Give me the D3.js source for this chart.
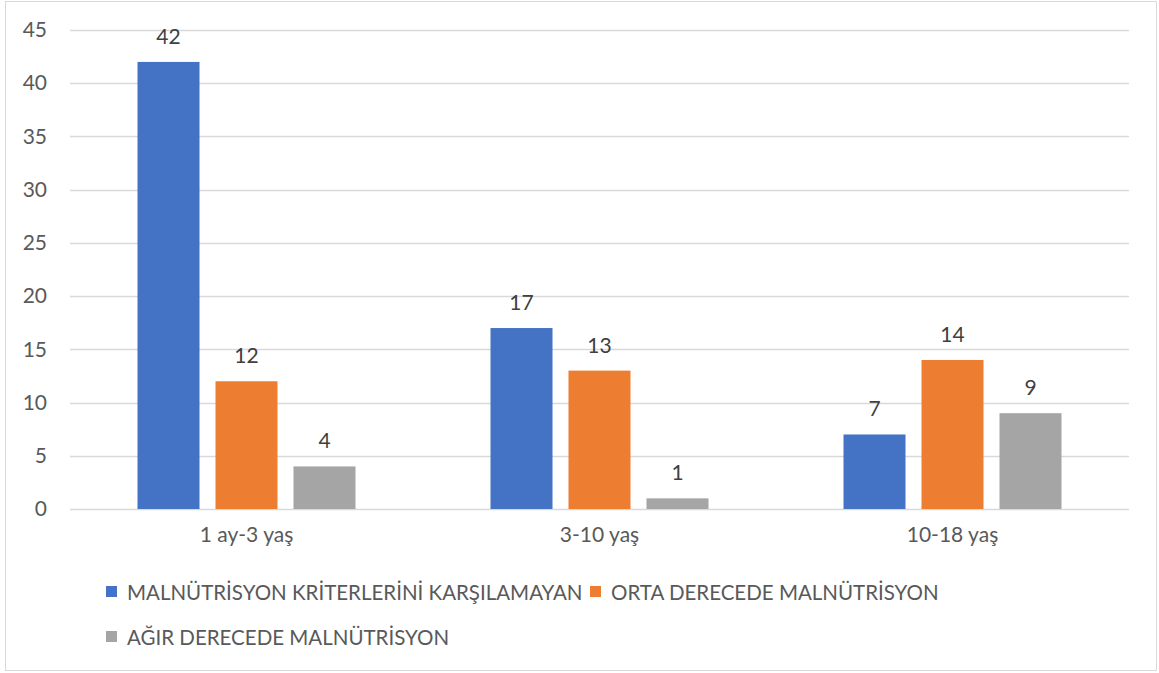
<!DOCTYPE html>
<html>
<head>
<meta charset="utf-8">
<script src="https://cdn.jsdelivr.net/npm/d3@7"></script>
<style>
  body { margin: 0; background: #fff; }
  svg { font-family: Lato, "Open Sans", sans-serif; }
</style>
</head>
<body>
<div id="chart-area"></div>
<script>
// Chart data
const categories = ["1 ay-3 yaş", "3-10 yaş", "10-18 yaş"];
const seriesNames = [
    "MALNÜTRİSYON KRİTERLERİNİ KARŞILAMAYAN",
    "ORTA DERECEDE MALNÜTRİSYON",
    "AĞIR DERECEDE MALNÜTRİSYON"
];
const kriterDisi = [42, 17, 7];
const ortaDerece = [12, 13, 14];
const agirDerece = [4, 1, 9];
const yTicks = [0, 5, 10, 15, 20, 25, 30, 35, 40, 45];
const colors = ["#4472c4", "#ed7d31", "#a5a5a5"];

const seriesValues = [kriterDisi, ortaDerece, agirDerece];

const W = 1159, H = 673;
const margin = { left: 70, right: 30, top: 30, bottom: 164 };
const width = W - margin.left - margin.right,
    height = H - margin.top - margin.bottom;

const svg = d3.select("#chart-area").append("svg")
    .attr("width", W)
    .attr("height", H);

// outer chart border
svg.append("rect")
    .attr("x", 5.5).attr("y", 1.5)
    .attr("width", 1151).attr("height", 669)
    .attr("fill", "#fff")
    .attr("stroke", "#d9d9d9")
    .attr("stroke-width", 1);

const g = svg.append("g")
    .attr("transform", "translate(" + margin.left + "," + margin.top + ")");

// Scales
const x0 = d3.scaleBand().domain(categories).range([0, width]).paddingInner(0).paddingOuter(0);
const x1 = d3.scaleBand().domain(d3.range(seriesNames.length))
    .range([67.5, x0.bandwidth() - 67.5]).paddingInner(0.205).paddingOuter(0);
const y = d3.scaleLinear().domain([0, 45]).range([height, 0]);

// Gridlines
g.selectAll(".grid").data(yTicks).enter().append("line")
    .attr("class", "grid")
    .attr("x1", 0).attr("x2", width)
    .attr("y1", d => Math.round(y(d)) + 0.5)
    .attr("y2", d => Math.round(y(d)) + 0.5)
    .attr("stroke", "#d9d9d9")
    .attr("stroke-width", 1.3);

// Y axis labels
const yAxis = g.append("g")
    .call(d3.axisLeft(y).tickValues(yTicks).tickSize(0).tickPadding(23));
yAxis.select(".domain").remove();
yAxis.selectAll("text")
    .attr("fill", "#595959")
    .style("font-size", "21px")
    .style("font-family", "Lato, sans-serif");

// X axis labels
const xAxis = g.append("g")
    .attr("transform", "translate(0," + height + ")")
    .call(d3.axisBottom(x0).tickSize(0).tickPadding(18));
xAxis.select(".domain").remove();
xAxis.selectAll("text")
    .attr("fill", "#595959")
    .style("font-size", "21px")
    .style("font-family", "Lato, sans-serif");

// Bars
const groups = g.selectAll(".cat").data(categories).enter().append("g")
    .attr("class", "cat")
    .attr("transform", d => "translate(" + x0(d) + ",0)");

groups.each(function (cat, ci) {
    const grp = d3.select(this);
    seriesValues.forEach((vals, si) => {
        grp.append("rect")
            .attr("x", x1(si))
            .attr("y", y(vals[ci]))
            .attr("width", x1.bandwidth())
            .attr("height", height - y(vals[ci]))
            .attr("fill", colors[si]);
        grp.append("text")
            .attr("x", x1(si) + x1.bandwidth() / 2)
            .attr("y", y(vals[ci]) - 18)
            .attr("text-anchor", "middle")
            .attr("fill", "#404040")
            .style("font-size", "21px")
            .text(vals[ci]);
    });
});

// Legend
const legendPos = [[106, 586], [590, 586], [106, 631]];
seriesNames.forEach((name, i) => {
    const lg = svg.append("g")
        .attr("transform", "translate(" + legendPos[i][0] + "," + legendPos[i][1] + ")");
    lg.append("rect")
        .attr("width", 11).attr("height", 11)
        .attr("fill", colors[i]);
    lg.append("text")
        .attr("x", 21).attr("y", 13.5)
        .attr("fill", "#595959")
        .style("font-size", "20.5px")
        .text(name);
});
</script>
</body>
</html>
